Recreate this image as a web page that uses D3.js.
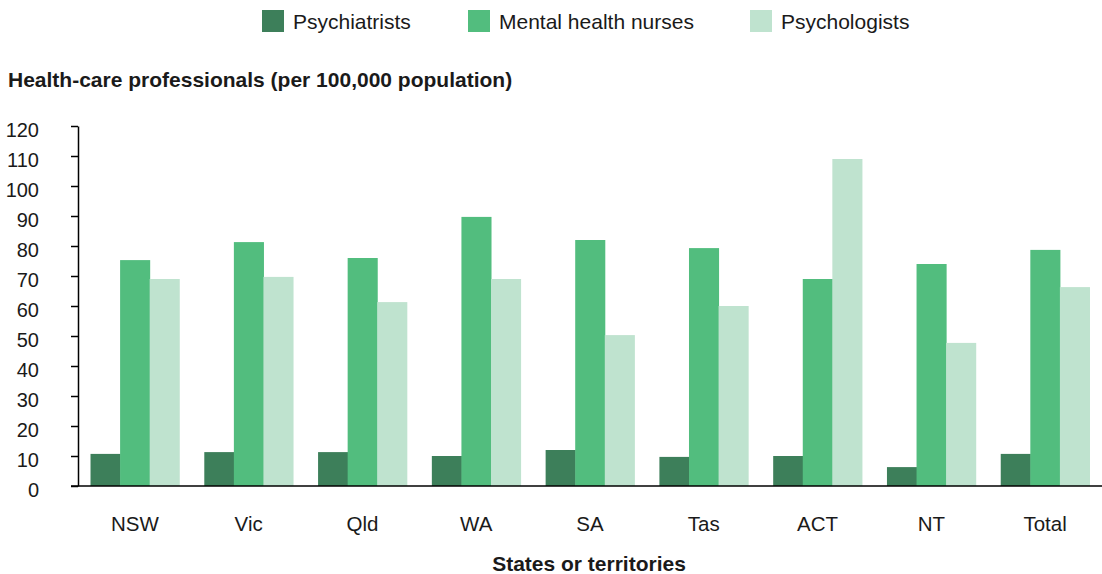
<!DOCTYPE html>
<html>
<head>
<meta charset="utf-8">
<script src="https://cdn.jsdelivr.net/npm/d3@7"></script>
<style>
  body { margin: 0; background: #fff; }
  text { font-family: "Liberation Sans", Arial, sans-serif; fill: #1a1a1a; }
</style>
</head>
<body>
<svg id="chart" width="1102" height="574"></svg>
<script>
// data
const states = ["NSW", "Vic", "Qld", "WA", "SA", "Tas", "ACT", "NT", "Total"]
const seriesNames = ["Psychiatrists", "Mental health nurses", "Psychologists"]
const psychiatrists = [10.7, 11.3, 11.3, 10, 12, 9.7, 10, 6.3, 10.7]
const nurses = [75.3, 81.3, 76, 89.7, 82, 79.3, 69, 74, 78.7]
const psychologists = [69, 69.7, 61.3, 69, 50.3, 60, 109, 47.7, 66.3]
const yTicks = [0, 10, 20, 30, 40, 50, 60, 70, 80, 90, 100, 110, 120]

const colors = ["#3d7f5a", "#52bd7e", "#bfe3cf"]
const seriesValues = [psychiatrists, nurses, psychologists]

const plotLeft = 78, plotRight = 1102, plotTop = 126, plotBottom = 486

const svg = d3.select("#chart")

const x = d3.scaleBand()
    .domain(states)
    .range([plotLeft, plotRight])
    .paddingInner(0.22)
    .paddingOuter(0.11)

const x1 = d3.scaleBand()
    .domain(seriesNames)
    .range([0, x.bandwidth()])

const y = d3.scaleLinear()
    .domain([0, 120])
    .range([plotBottom, plotTop])

const rows = states.map((s, i) => ({
    state: s,
    vals: seriesNames.map((n, j) => ({ name: n, j: j, v: seriesValues[j][i] }))
}))

// bars
svg.append("g")
  .selectAll("g")
  .data(rows)
  .enter()
  .append("g")
    .attr("transform", d => "translate(" + x(d.state) + ",0)")
  .selectAll("rect")
  .data(d => d.vals)
  .enter()
  .append("rect")
    .attr("x", d => x1(d.name))
    .attr("width", x1.bandwidth() + 0.5)
    .attr("y", d => y(d.v))
    .attr("height", d => y(0) - y(d.v))
    .attr("fill", d => colors[d.j])

// y axis
const yAxis = svg.append("g")
    .attr("transform", "translate(" + plotLeft + ",0)")
    .call(d3.axisLeft(y).tickValues(yTicks).tickSize(7).tickPadding(32).tickSizeOuter(0))
yAxis.select(".domain").attr("stroke", "#000").attr("stroke-width", 1.5)
yAxis.selectAll(".tick line").attr("stroke", "#000").attr("stroke-width", 1.5)
yAxis.selectAll(".tick text")
    .attr("font-size", "20px")
    .attr("dy", "0.5em")
    .attr("fill", "#1a1a1a")
    .style("font-family", "'Liberation Sans', Arial, sans-serif")

// x axis line
svg.append("line")
    .attr("x1", plotLeft - 7)
    .attr("x2", plotRight)
    .attr("y1", plotBottom)
    .attr("y2", plotBottom)
    .attr("stroke", "#000")
    .attr("stroke-width", 1.5)

// category labels
svg.append("g")
  .selectAll("text")
  .data(states)
  .enter()
  .append("text")
    .attr("x", d => x(d) + x.bandwidth() / 2)
    .attr("y", 531)
    .attr("text-anchor", "middle")
    .attr("font-size", "20.5px")
    .text(d => d)

// titles
svg.append("text")
    .attr("x", 8)
    .attr("y", 87)
    .attr("font-size", "21px")
    .attr("font-weight", "bold")
    .text("Health-care professionals (per 100,000 population)")

svg.append("text")
    .attr("x", 589)
    .attr("y", 571)
    .attr("text-anchor", "middle")
    .attr("font-size", "21px")
    .attr("font-weight", "bold")
    .text("States or territories")

// legend
const legendX = [262, 468, 750]
const legend = svg.append("g")
  .selectAll("g")
  .data(seriesNames)
  .enter()
  .append("g")
    .attr("transform", (d, i) => "translate(" + legendX[i] + ",10)")
legend.append("rect")
    .attr("width", 22)
    .attr("height", 22)
    .attr("fill", (d, i) => colors[i])
legend.append("text")
    .attr("x", 31)
    .attr("y", 19)
    .attr("font-size", "21px")
    .text(d => d)
</script>
</body>
</html>
